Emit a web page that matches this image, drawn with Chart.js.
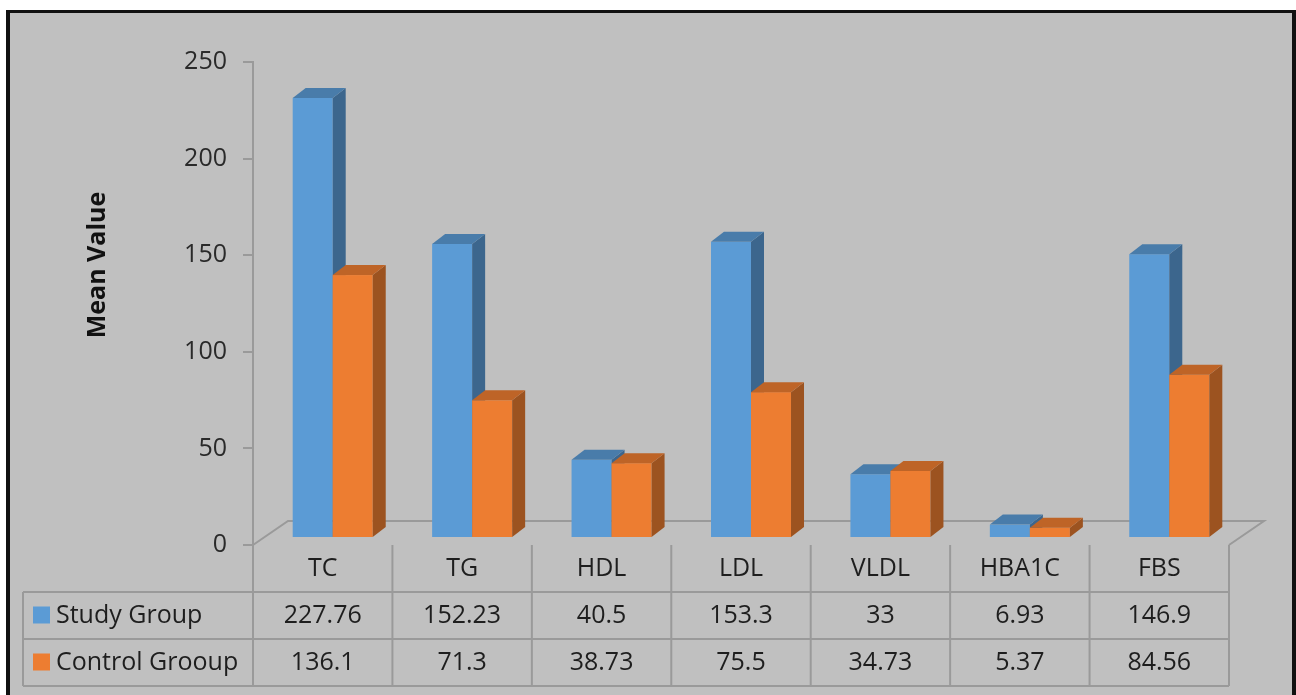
<!DOCTYPE html>
<html>
<head>
<meta charset="utf-8">
<title>Mean Value by Group</title>
<script src="https://cdn.jsdelivr.net/npm/chart.js@4/dist/chart.umd.min.js"></script>
<style>
    body { margin: 0; background: #ffffff; }
    #wrap { width: 1296px; height: 695px; }
</style>
</head>
<body>
<div id="wrap"><canvas id="meanChart" width="1296" height="695"></canvas></div>
<script>
// Lipid profile / glucose means for the two groups
const categories = ['TC', 'TG', 'HDL', 'LDL', 'VLDL', 'HBA1C', 'FBS'];
const studyGroup = [227.76, 152.23, 40.5, 153.3, 33, 6.93, 146.9];
const controlGroup = [136.1, 71.3, 38.73, 75.5, 34.73, 5.37, 84.56];
const seriesNames = ['Study Group', 'Control Grooup'];
const seriesColors = ['#5b9bd5', '#ed7d31'];
const yMax = 250;
const yStep = 50;

const FONT = '"Open Sans", "DejaVu Sans", sans-serif';
const LINE = '#9a9a9a';
const TEXT = '#1e1e1e';

// pseudo-3D offsets (pixels)
const floorDepth = { dx: 35, dy: -24 };
const barLift = { dx: 10, dy: -7 };
const barDepth = { dx: 13, dy: -10 };

function shade(hex, f) {
    const n = parseInt(hex.slice(1), 16);
    const r = Math.round(((n >> 16) & 255) * f);
    const g = Math.round(((n >> 8) & 255) * f);
    const b = Math.round((n & 255) * f);
    return `rgb(${r}, ${g}, ${b})`;
}

function poly(ctx, pts, fill) {
    ctx.beginPath();
    ctx.moveTo(pts[0][0], pts[0][1]);
    for (let i = 1; i < pts.length; i++) ctx.lineTo(pts[i][0], pts[i][1]);
    ctx.closePath();
    ctx.fillStyle = fill;
    ctx.fill();
}

// Frame and grey background
const framePlugin = {
    id: 'frame',
    beforeDraw(chart) {
        const ctx = chart.ctx;
        ctx.save();
        ctx.fillStyle = '#ffffff';
        ctx.fillRect(0, 0, chart.width, chart.height);
        ctx.fillStyle = '#111111';
        ctx.fillRect(6, 10, 1290, 700);
        ctx.fillStyle = '#c0c0c0';
        ctx.fillRect(10, 13, 1282, 700);
        ctx.restore();
    }
};

// Floor plus bars drawn with side and top faces, left to right
const bars3dPlugin = {
    id: 'bars3d',
    beforeDatasetsDraw(chart) {
        const ctx = chart.ctx;
        const ca = chart.chartArea;
        ctx.save();

        // floor outline
        ctx.strokeStyle = LINE;
        ctx.lineWidth = 2;
        ctx.beginPath();
        ctx.moveTo(ca.left, ca.bottom);
        ctx.lineTo(ca.left + floorDepth.dx, ca.bottom + floorDepth.dy);
        ctx.lineTo(ca.right + floorDepth.dx, ca.bottom + floorDepth.dy);
        ctx.lineTo(ca.right, ca.bottom);
        ctx.stroke();

        const metas = chart.data.datasets.map((ds, i) => chart.getDatasetMeta(i));
        for (let i = 0; i < categories.length; i++) {
            metas.forEach((meta, d) => {
                const bar = meta.data[i].getProps(['x', 'y', 'base', 'width'], true);
                const color = seriesColors[d];
                const left = bar.x - bar.width / 2 + barLift.dx;
                const right = left + bar.width;
                const top = bar.y + barLift.dy;
                const bottom = bar.base + barLift.dy;

                ctx.fillStyle = color;
                ctx.fillRect(left, top, bar.width, bottom - top);
                poly(ctx, [[right, top], [right + barDepth.dx, top + barDepth.dy],
                    [right + barDepth.dx, bottom + barDepth.dy], [right, bottom]], shade(color, 0.66));
                poly(ctx, [[left, top], [right, top],
                    [right + barDepth.dx, top + barDepth.dy], [left + barDepth.dx, top + barDepth.dy]], shade(color, 0.8));
            });
        }
        ctx.restore();
        return false;
    }
};

// Data table under the plot plus the axis title
const tablePlugin = {
    id: 'dataTable',
    afterDraw(chart) {
        const ctx = chart.ctx;
        const ca = chart.chartArea;
        const colW = (ca.right - ca.left) / categories.length;
        const rowH = 47;
        const top = ca.bottom;
        const legendLeft = 23;
        const bottom = top + rowH * 3;

        ctx.save();
        ctx.strokeStyle = LINE;
        ctx.lineWidth = 2;
        ctx.beginPath();
        for (let k = 0; k <= categories.length; k++) {
            const x = ca.left + k * colW;
            ctx.moveTo(x, top);
            ctx.lineTo(x, bottom);
        }
        ctx.moveTo(legendLeft, top + rowH);
        ctx.lineTo(legendLeft, bottom);
        for (let r = 1; r <= 3; r++) {
            ctx.moveTo(legendLeft, top + rowH * r);
            ctx.lineTo(ca.right, top + rowH * r);
        }
        ctx.stroke();

        ctx.fillStyle = TEXT;
        ctx.font = `25px ${FONT}`;
        ctx.textAlign = 'center';
        ctx.textBaseline = 'middle';
        categories.forEach((c, i) => {
            const cx = ca.left + (i + 0.5) * colW;
            ctx.fillText(c, cx, top + rowH * 0.5);
            ctx.fillText(String(studyGroup[i]), cx, top + rowH * 1.5);
            ctx.fillText(String(controlGroup[i]), cx, top + rowH * 2.5);
        });

        ctx.textAlign = 'left';
        seriesNames.forEach((name, s) => {
            const cy = top + rowH * (s + 1.5);
            ctx.fillStyle = seriesColors[s];
            ctx.fillRect(33, cy - 9, 17, 17);
            ctx.fillStyle = TEXT;
            ctx.fillText(name, 56, cy);
        });

        // y axis title
        ctx.translate(98, 265);
        ctx.rotate(-Math.PI / 2);
        ctx.textAlign = 'center';
        ctx.fillStyle = '#111111';
        ctx.font = `bold 25px ${FONT}`;
        ctx.fillText('Mean Value', 0, 0);
        ctx.restore();
    }
};

new Chart(document.getElementById('meanChart'), {
    type: 'bar',
    data: {
        labels: categories,
        datasets: [
            { label: seriesNames[0], data: studyGroup, backgroundColor: seriesColors[0] },
            { label: seriesNames[1], data: controlGroup, backgroundColor: seriesColors[1] }
        ]
    },
    options: {
        responsive: false,
        animation: false,
        categoryPercentage: 0.574,
        barPercentage: 1,
        layout: { padding: { top: 62, bottom: 150, right: 67, left: 0 } },
        plugins: {
            legend: { display: false },
            tooltip: { enabled: false }
        },
        scales: {
            x: { display: false },
            y: {
                min: 0,
                max: yMax,
                afterFit(scale) { scale.width = 253; },
                ticks: {
                    stepSize: yStep,
                    padding: 16,
                    color: '#2a2a2a',
                    font: { family: FONT, size: 25 }
                },
                grid: { drawOnChartArea: false, tickLength: 10, color: LINE, lineWidth: 2 },
                border: { color: LINE, width: 2 }
            }
        }
    },
    plugins: [framePlugin, bars3dPlugin, tablePlugin]
});
</script>
</body>
</html>
